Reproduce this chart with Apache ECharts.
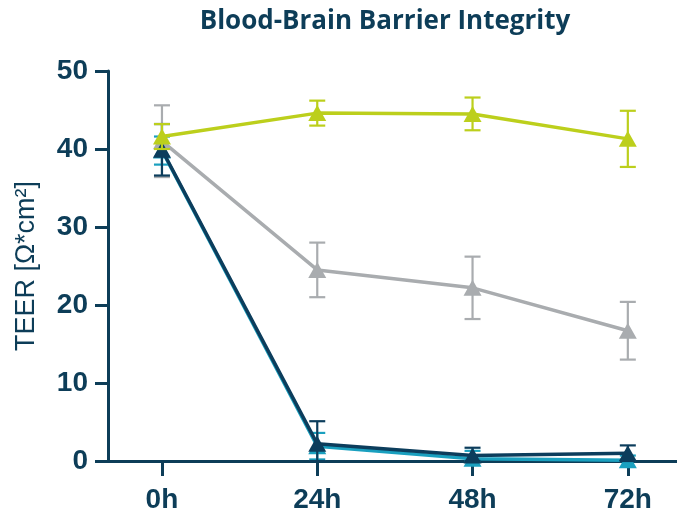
<!DOCTYPE html>
<html><head><meta charset="utf-8">
<script src="https://cdn.jsdelivr.net/npm/echarts@6/dist/echarts.min.js"></script>
<style>html,body{margin:0;padding:0;background:#fff}#c{width:677px;height:515px}</style>
</head><body><div id="c"></div>
<script>
const hours = [0, 24, 48, 72];
const tickLabels = ['0h', '24h', '48h', '72h'];
const greyMean = [41.0, 24.5, 22.2, 16.7];
const greyErr = [4.6, 3.5, 4.0, 3.7];
const tealMean = [39.8, 1.9, 0.3, 0.1];
const tealErr = [1.8, 1.7, 1.0, 0.6];
const navyMean = [39.9, 2.2, 0.7, 1.0];
const navyErr = [3.3, 2.9, 1.0, 1.0];
const limeMean = [41.6, 44.6, 44.5, 41.3];
const limeErr = [1.6, 1.6, 2.1, 3.6];

const AX = '#0d3d58';
const groups = [
  {mean: greyMean, err: greyErr, color: '#a9acaf'},
  {mean: tealMean, err: tealErr, color: '#1aa0bf'},
  {mean: navyMean, err: navyErr, color: '#0c3d5c'},
  {mean: limeMean, err: limeErr, color: '#bccf1c'}
];

const series = [];
groups.forEach((g, gi) => {
  series.push({
    type: 'custom',
    z: 2 + gi * 2,
    data: hours.map((h, i) => [h, Math.max(0, g.mean[i] - g.err[i]), g.mean[i] + g.err[i]]),
    renderItem: function (params, api) {
      const lo = api.coord([api.value(0), api.value(1)]);
      const hi = api.coord([api.value(0), api.value(2)]);
      const w = 8;
      const st = {stroke: g.color, lineWidth: 2.2};
      return {type: 'group', children: [
        {type: 'line', shape: {x1: hi[0], y1: hi[1], x2: lo[0], y2: lo[1]}, style: st},
        {type: 'line', shape: {x1: hi[0] - w, y1: hi[1], x2: hi[0] + w, y2: hi[1]}, style: st},
        {type: 'line', shape: {x1: lo[0] - w, y1: lo[1], x2: lo[0] + w, y2: lo[1]}, style: st}
      ]};
    },
    silent: true
  });
  series.push({
    type: 'line',
    z: 3 + gi * 2,
    data: hours.map((h, i) => [h, g.mean[i]]),
    symbol: 'triangle',
    symbolSize: [18, 16],
    lineStyle: {color: g.color, width: 3.5},
    itemStyle: {color: g.color},
    silent: true
  });
});

const chart = echarts.init(document.getElementById('c'));
chart.setOption({
  animation: false,
  title: {
    text: 'Blood-Brain Barrier Integrity',
    left: 380, top: 4, textAlign: 'center',
    textStyle: {fontFamily: 'Open Sans', fontWeight: 'bold', fontSize: 26, color: AX}
  },
  grid: {left: 108, right: 0, top: 71, bottom: 54, containLabel: false, outerBoundsMode: 'none'},
  xAxis: {
    type: 'value', min: -8.34, max: 79.6,
    axisLine: {onZero: false, lineStyle: {color: AX, width: 3}},
    axisTick: {show: true, length: 15, lineStyle: {color: AX, width: 3}, customValues: hours},
    axisLabel: {
      customValues: hours,
      formatter: v => tickLabels[hours.indexOf(v)],
      margin: 25,
      fontFamily: 'Liberation Sans', fontWeight: 'bold', fontSize: 28, color: AX
    },
    splitLine: {show: false}
  },
  yAxis: {
    type: 'value', min: 0, max: 50, interval: 10,
    name: 'TEER [Ω*cm²]', nameLocation: 'middle', nameGap: 68,
    nameTextStyle: {fontFamily: 'Liberation Sans', fontSize: 27, color: AX},
    axisLine: {show: true, onZero: false, lineStyle: {color: AX, width: 3}},
    axisTick: {show: true, length: 13, lineStyle: {color: AX, width: 3}},
    axisLabel: {margin: 20, fontFamily: 'Liberation Sans', fontWeight: 'bold', fontSize: 28, color: AX},
    splitLine: {show: false}
  },
  series: series
});
</script></body></html>
